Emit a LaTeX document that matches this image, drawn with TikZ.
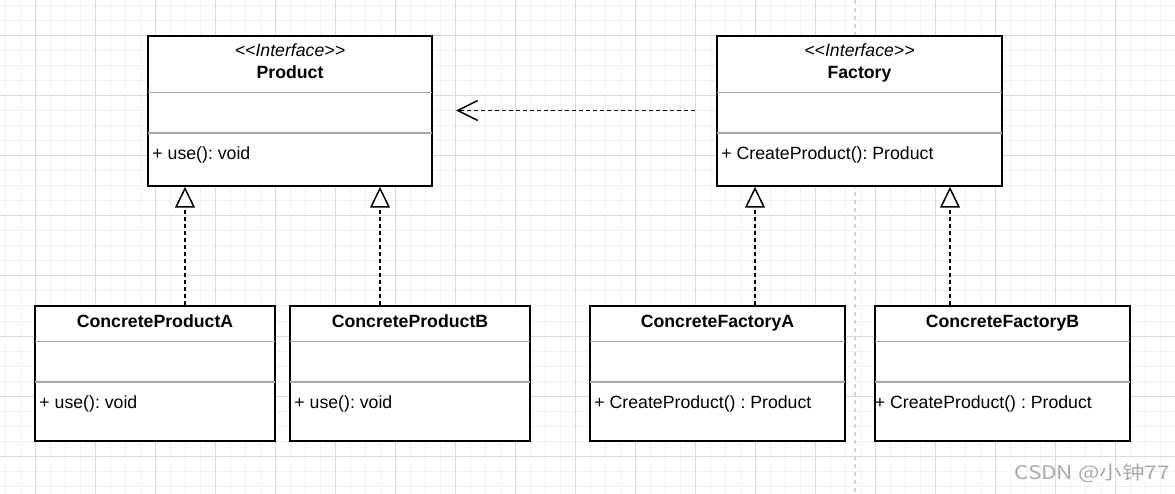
\documentclass[tikz,border=0pt]{standalone}
\usepackage{fontspec}
\setmainfont{Liberation Sans}
\newfontfamily\cjkfont[FakeStretch=1.2]{Noto Sans CJK SC}
\usetikzlibrary{arrows.meta}
\frenchspacing
\definecolor{gridminor}{HTML}{F2F2F2}
\definecolor{gridmajor}{HTML}{DADADA}
\definecolor{sepgray}{HTML}{A6A6A6}
\definecolor{wmgray}{HTML}{ABABAB}
\definecolor{vline}{HTML}{D4D4D4}
\tikzset{
  cls/.style={draw=black, line width=1.5pt, fill=white, inner sep=0pt, minimum height=#1},
  sepline/.style={draw=sepgray, line width=1.8pt},
  stereo/.style={inner sep=0pt, anchor=base, font=\fontsize{17.7}{20}\selectfont\itshape},
  title/.style={inner sep=0pt, anchor=base, font=\fontsize{17.7}{20}\selectfont\bfseries},
  member/.style={inner sep=0pt, anchor=base west, font=\fontsize{17.7}{20}\selectfont},
  impl/.style={line width=1.5pt, dash pattern=on 4pt off 3pt,
    -{Triangle[open, length=21pt, width=20pt, line width=1.5pt, fill=white]}},
  dep/.style={line width=1.5pt, dash pattern=on 4pt off 3pt,
    -{Straight Barb[length=20pt, width=20pt, line width=1.5pt]}},
  wm/.style={inner sep=0pt, text=wmgray, font=\fontsize{18.8}{22}\selectfont\cjkfont}
}
\begin{document}
\begin{tikzpicture}[x=1pt, y=-1pt]
  % background and grid
  \fill[white] (0,0) rectangle (1175,494);
  \useasboundingbox (0,0) rectangle (1175,494);
  \foreach \gx in {5,20,...,1175} \draw[gridminor, line width=1pt] (\gx,0) -- (\gx,494);
  \foreach \gy in {6,21,...,494} \draw[gridminor, line width=1pt] (0,\gy) -- (1175,\gy);
  \foreach \gx in {35.5,95.5,...,1175} \draw[gridmajor, line width=1pt] (\gx,0) -- (\gx,494);
  \foreach \gy in {36,96,...,494} \draw[gridmajor, line width=1pt] (0,\gy) -- (1175,\gy);
  % vertical page-break line
  \draw[vline, line width=2pt, dash pattern=on 4pt off 4pt] (855,0) -- (855,494);

  % interface boxes
  \node[cls=150pt, minimum width=284pt] (product) at (290,111) {};
  \node[cls=150pt, minimum width=285pt] (factory) at (859.5,111) {};
  % concrete boxes
  \node[cls=135pt, minimum width=240pt] (cpa) at (155,373.5) {};
  \node[cls=135pt, minimum width=240pt] (cpb) at (410,373.5) {};
  \node[cls=135pt, minimum width=255pt] (cfa) at (717.5,373.5) {};
  \node[cls=135pt, minimum width=255pt] (cfb) at (1002.5,373.5) {};

  % compartments
  \foreach \n in {product,factory}{
    \draw[sepline] ([yshift=-57.3pt,xshift=0.75pt]\n.north west) -- ([yshift=-57.3pt,xshift=-0.75pt]\n.north east);
    \draw[sepline] ([yshift=-97.7pt,xshift=0.75pt]\n.north west) -- ([yshift=-97.7pt,xshift=-0.75pt]\n.north east);
  }
  \foreach \n in {cpa,cpb,cfa,cfb}{
    \draw[sepline] ([yshift=-36.3pt,xshift=0.75pt]\n.north west) -- ([yshift=-36.3pt,xshift=-0.75pt]\n.north east);
    \draw[sepline] ([yshift=-76.7pt,xshift=0.75pt]\n.north west) -- ([yshift=-76.7pt,xshift=-0.75pt]\n.north east);
  }

  % texts
  \node[stereo] (pst) at ([yshift=-21.3pt]product.north) {<{}<Interface>{}>};
  \node[title] (pti) at ([yshift=-43.3pt]product.north) {Product};
  \node[member] (pme) at ([xshift=5pt,yshift=-124.3pt]product.north west) {+ use(): void};

  \node[stereo] (fst) at ([yshift=-21.3pt]factory.north) {<{}<Interface>{}>};
  \node[title] (fti) at ([yshift=-43.3pt]factory.north) {Factory};
  \node[member] (fme) at ([xshift=5pt,yshift=-124.3pt]factory.north west) {+ CreateProduct(): Product};

  \node[title] (cpat) at ([yshift=-22.3pt]cpa.north) {ConcreteProductA};
  \node[member] (cpam) at ([xshift=5pt,yshift=-103.3pt]cpa.north west) {+ use(): void};
  \node[title] (cpbt) at ([yshift=-22.3pt]cpb.north) {ConcreteProductB};
  \node[member] (cpbm) at ([xshift=5pt,yshift=-103.3pt]cpb.north west) {+ use(): void};
  \node[title] (cfat) at ([yshift=-22.3pt]cfa.north) {ConcreteFactoryA};
  \node[member] (cfam) at ([xshift=5pt,yshift=-103.3pt]cfa.north west) {+ CreateProduct() : Product};
  \node[title] (cfbt) at ([yshift=-22.3pt]cfb.north) {ConcreteFactoryB};
  \node[member] (cfbm) at ([xshift=0.5pt,yshift=-103.3pt]cfb.north west) {+ CreateProduct() : Product};

  % realization connectors
  \draw[impl] ([xshift=30pt]cpa.north) -- ([xshift=-105pt]product.south);
  \draw[impl] ([xshift=-30pt]cpb.north) -- ([xshift=90pt]product.south);
  \draw[impl] ([xshift=37.5pt]cfa.north) -- ([xshift=-104.5pt]factory.south);
  \draw[impl] ([xshift=-52.5pt]cfb.north) -- ([xshift=90.5pt]factory.south);

  % dependency
  \coordinate (depstart) at (695,110.5);
  \coordinate (depend) at (456,110.5);
  \draw[dep] (depstart) -- (depend);

  % watermark
  \node[wm, anchor=east] (wmark) at (1170,473) {CSDN @小钟77};
\end{tikzpicture}
\end{document}
